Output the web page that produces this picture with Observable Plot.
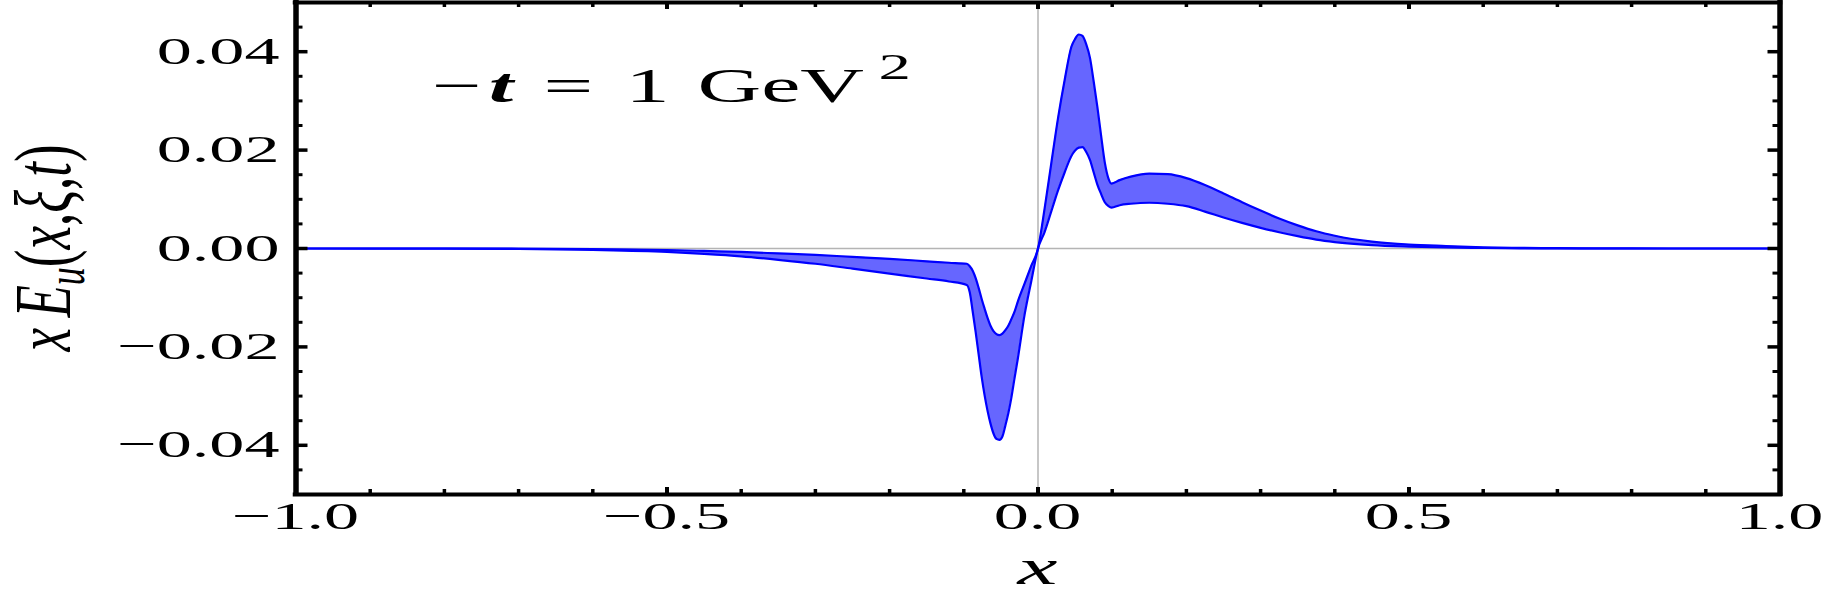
<!DOCTYPE html>
<html><head><meta charset="utf-8">
<script src="https://cdn.jsdelivr.net/npm/d3@7"></script>
<script src="https://cdn.jsdelivr.net/npm/@observablehq/plot@0.6"></script>
<style>html,body{margin:0;padding:0;background:#fff;} svg{display:block;}</style>
</head><body><div id="chart"></div>
<script>
// x grid of the band
const xs = [-1, -0.8, -0.7, -0.6, -0.5, -0.45, -0.4, -0.35, -0.3, -0.25, -0.2, -0.15, -0.12,
  -0.096, -0.092, -0.088, -0.084, -0.08, -0.076, -0.072, -0.068, -0.064, -0.06, -0.056, -0.052,
  -0.048, -0.044, -0.04, -0.036, -0.032, -0.027, -0.018, -0.009, 0,
  0.009, 0.018, 0.027, 0.036, 0.045, 0.05, 0.055, 0.06, 0.065, 0.07, 0.075, 0.08, 0.085, 0.09,
  0.095, 0.099, 0.11, 0.125, 0.15, 0.175, 0.2, 0.225, 0.25, 0.275, 0.3, 0.325, 0.35, 0.375, 0.4,
  0.45, 0.5, 0.55, 0.6, 0.65, 0.7, 0.8, 0.9, 1.0];
// upper edge of the band
const upper = [0, 0, -0.00003, -0.0001, -0.0003, -0.0005, -0.0007, -0.001, -0.0013, -0.0017, -0.0021, -0.0026, -0.0029,
  -0.0031, -0.0036, -0.0045, -0.006, -0.008, -0.0102, -0.0122, -0.0141, -0.0157, -0.0168, -0.0174, -0.0176,
  -0.0173, -0.0166, -0.0157, -0.0144, -0.013, -0.0107, -0.0071, -0.0035, 0,
  0.0082, 0.0174, 0.0265, 0.0343, 0.041, 0.0426, 0.0435, 0.0432, 0.0415, 0.0388, 0.034, 0.0288, 0.023, 0.0175,
  0.0142, 0.0132, 0.0139, 0.0146, 0.0152, 0.0151, 0.0143, 0.0129, 0.0112, 0.0094, 0.0077, 0.0061, 0.0047, 0.0035, 0.0026,
  0.0014, 0.0008, 0.0005, 0.00025, 0.00012, 0.00006, 0.00001, 0, 0];
// lower edge of the band
const lower = [0, -0.00002, -0.0001, -0.0003, -0.0007, -0.0011, -0.0016, -0.0023, -0.0031, -0.0041, -0.0051, -0.0061, -0.0067,
  -0.0074, -0.0089, -0.0128, -0.017, -0.0215, -0.026, -0.0298, -0.033, -0.0356, -0.0376, -0.0387, -0.0389,
  -0.0382, -0.036, -0.0335, -0.0304, -0.0267, -0.0222, -0.0134, -0.0066, 0,
  0.0034, 0.0076, 0.0118, 0.0155, 0.0188, 0.0199, 0.0205, 0.0206, 0.0196, 0.018, 0.0155, 0.013, 0.0111, 0.0094,
  0.0086, 0.0083, 0.0088, 0.0091, 0.0093, 0.0091, 0.0086, 0.0075, 0.0063, 0.0052, 0.0042, 0.0033, 0.0025, 0.0018, 0.0013,
  0.0007, 0.0004, 0.0002, 0.0001, 0.00004, 0.00001, 0, 0, 0];

const xMajor = [-1, -0.5, 0, 0.5, 1];
const xMajorLabels = ["\u22121.0", "\u22120.5", "0.0", "0.5", "1.0"];
const xMinor = [-0.9, -0.8, -0.7, -0.6, -0.4, -0.3, -0.2, -0.1, 0.1, 0.2, 0.3, 0.4, 0.6, 0.7, 0.8, 0.9];
const yMajor = [-0.04, -0.02, 0, 0.02, 0.04];
const yMajorLabels = ["\u22120.04", "\u22120.02", "0.00", "0.02", "0.04"];
const yMinor = [-0.045, -0.035, -0.03, -0.025, -0.015, -0.01, -0.005, 0.005, 0.01, 0.015, 0.025, 0.03, 0.035, 0.045];

const rows = xs.map((x, i) => ({x, hi: upper[i], lo: lower[i]}));
const SX = 1.8;
const FONT = "'Liberation Serif', 'DejaVu Serif', serif";
const BLUE = "#0000ff", FILL = "#6666ff", GRAY = "#b4b4b4";
const ML = 295.5, MR = 47.5, MT = 2, MB = 105, W = 1827, H = 599;

const innerX = xMajor.slice(1, -1);

const svg = Plot.plot({
  width: W, height: H,
  marginLeft: ML, marginRight: MR, marginTop: MT, marginBottom: MB,
  x: {domain: [-1, 1], axis: null},
  y: {domain: [-0.05, 0.05], axis: null},
  style: {fontFamily: FONT, background: "white", color: "black"},
  marks: [
    Plot.ruleX([0], {stroke: GRAY, strokeWidth: 1.5}),
    Plot.ruleY([0], {stroke: GRAY, strokeWidth: 1.5}),
    Plot.areaY(rows, {x: "x", y1: "lo", y2: "hi", fill: FILL, curve: "monotone-x"}),
    Plot.line(rows, {x: "x", y: "hi", stroke: BLUE, strokeWidth: 2.2, curve: "monotone-x"}),
    Plot.line(rows, {x: "x", y: "lo", stroke: BLUE, strokeWidth: 2.2, curve: "monotone-x"}),
    // bottom ticks
    Plot.ruleX(innerX, {x: d => d, y1: -0.05, y2: -0.05, insetBottom: 7, strokeWidth: 4}),
    Plot.ruleX(xMinor, {x: d => d, y1: -0.05, y2: -0.05, insetBottom: 5, strokeWidth: 3.5}),
    // top ticks
    Plot.ruleX(innerX, {x: d => d, y1: 0.05, y2: 0.05, insetTop: 7, strokeWidth: 4}),
    Plot.ruleX(xMinor, {x: d => d, y1: 0.05, y2: 0.05, insetTop: 5, strokeWidth: 3.5}),
    // left ticks
    Plot.ruleY(yMajor, {y: d => d, x1: -1, x2: -1, insetLeft: 12, strokeWidth: 3.5}),
    Plot.ruleY(yMinor, {y: d => d, x1: -1, x2: -1, insetLeft: 7, strokeWidth: 3}),
    // right ticks
    Plot.ruleY(yMajor, {y: d => d, x1: 1, x2: 1, insetRight: 12, strokeWidth: 3.5}),
    Plot.ruleY(yMinor, {y: d => d, x1: 1, x2: 1, insetRight: 7, strokeWidth: 3}),
    // frame
    Plot.ruleX([-1, 1], {stroke: "black", strokeWidth: 5.5, insetTop: -2, insetBottom: -2}),
    Plot.ruleY([-0.05, 0.05], {stroke: "black", strokeWidth: 4, insetLeft: -2.75, insetRight: -2.75})
  ]
});

const s = d3.select(svg);
const X = svg.scale("x"), Y = svg.scale("y");

// tick labels, positioned with the plot's own scales, glyphs widened like the reference
const gx = s.append("g").attr("font-family", FONT).attr("font-size", 39).attr("fill", "black").attr("text-anchor", "middle");
xMajor.forEach((v, i) => {
  gx.append("text")
    .attr("transform", `translate(${X.apply(v)},${H - MB + 35}) scale(${SX},1)`)
    .text(xMajorLabels[i]);
});
const gy = s.append("g").attr("font-family", FONT).attr("font-size", 39).attr("fill", "black").attr("text-anchor", "end");
yMajor.forEach((v, i) => {
  gy.append("text")
    .attr("transform", `translate(${ML - 16},${Y.apply(v) + 12.5}) scale(${SX},1)`)
    .text(yMajorLabels[i]);
});

// title: -t = 1 GeV^2
const title = s.append("text")
  .attr("transform", `translate(432,102) scale(${SX},1)`)
  .attr("text-anchor", "start")
  .attr("font-family", FONT).attr("font-size", 49).attr("fill", "black");
title.append("tspan").attr("x", 0).text("\u2212");
title.append("tspan").attr("x", 31.5).attr("font-style", "italic").attr("font-weight", "bold").text("t");
title.append("tspan").attr("x", 62).text("=");
title.append("tspan").attr("x", 107.5).text("1");
title.append("tspan").attr("x", 147.5).text("GeV");
title.append("tspan").attr("x", 248).attr("dy", -23).attr("font-size", 36).text("2");

// x label
s.append("text")
  .attr("transform", `translate(${X.apply(0)},584) scale(${SX},1)`)
  .attr("text-anchor", "middle")
  .attr("font-family", FONT).attr("font-size", 50).attr("font-style", "italic").attr("fill", "black")
  .text("x");

// y label: x E_u(x, xi, t)
const yl = s.append("text")
  .attr("transform", `translate(70,${Y.apply(0)}) rotate(-90) scale(1,1.5)`)
  .attr("text-anchor", "middle")
  .attr("font-family", FONT).attr("font-size", 53).attr("fill", "black");
yl.append("tspan").attr("font-style", "italic").text("x\u2009E");
yl.append("tspan").attr("font-style", "italic").attr("font-size", 36).attr("dy", 9).text("u");
yl.append("tspan").attr("dy", -9).text("(");
yl.append("tspan").attr("font-style", "italic").text("x");
yl.append("tspan").text(",");
yl.append("tspan").attr("font-style", "italic").text("\u03BE");
yl.append("tspan").text(",");
yl.append("tspan").attr("font-style", "italic").text("t");
yl.append("tspan").text(")");

document.getElementById("chart").appendChild(svg);
</script>
</body></html>
